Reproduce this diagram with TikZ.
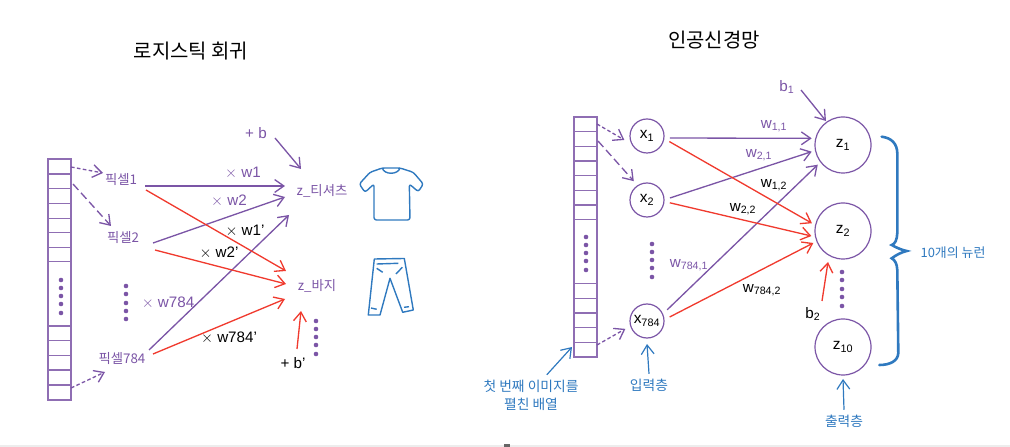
\documentclass[tikz,border=0pt]{standalone}
\usepackage{fontspec}
\setmainfont{Liberation Sans}
\newfontfamily\krfont{Noto Sans CJK KR}
\usetikzlibrary{arrows.meta}
\definecolor{netpurple}{HTML}{7B55A6}
\definecolor{netred}{HTML}{F03A2E}
\definecolor{netblue}{HTML}{2F79BF}
\tikzset{
	purpleArrow/.style={draw=netpurple, line width=0.33mm, -{Straight Barb[length=2.3mm,width=3.2mm]}},
	redArrow/.style={draw=netred, line width=0.33mm, -{Straight Barb[length=2.3mm,width=3.2mm]}},
	blueArrow/.style={draw=netblue, line width=0.3mm, -{Straight Barb[length=2.3mm,width=3.2mm]}},
	dotArrow/.style={purpleArrow, dash pattern=on 0.9mm off 0.6mm},
	dashArrow/.style={purpleArrow, dash pattern=on 2mm off 1mm},
	title/.style={font=\krfont\fontsize{14.2}{17}\selectfont},
	purpleKr/.style={text=netpurple, font=\krfont\fontsize{9.5}{11}\selectfont},
	blueKr/.style={text=netblue, align=center, font=\krfont\fontsize{9.8}{12.8}\selectfont},
	neuronKr/.style={text=netblue, font=\krfont\fontsize{9.2}{11}\selectfont},
	weight/.style={font=\fontsize{10.8}{13}\selectfont},
	inCircle/.style={circle, draw=netpurple, line width=0.3mm, minimum size=8.5mm, inner sep=0pt, outer sep=1.5mm, font=\fontsize{11}{13}\selectfont},
	outCircle/.style={circle, draw=netpurple, line width=0.3mm, minimum size=14mm, inner sep=0pt, outer sep=1mm, font=\fontsize{11}{13}\selectfont},
	dotty/.style={circle, fill=netpurple, inner sep=0pt, minimum size=1.15mm},
	cell/.style={rectangle, draw=netpurple!85, line width=0.28mm, minimum width=5.75mm, inner sep=0pt},
	iconLine/.style={draw=netblue, line width=0.35mm, line join=round}
}
\begin{document}
\begin{tikzpicture}[x=0.25mm, y=-0.25mm]
	\useasboundingbox (0,0) rectangle (1010,447);

	%Page edge
	\fill[black!7] (0,445) rectangle (1010,447);
	\fill[black!60] (504,444) rectangle (510,447);

	%Titles
	\node (leftTitle) at (191,51) [title]{로지스틱 회귀};
	\node (rightTitle) at (714,40) [title]{인공신경망};

	%Left array
	\node (leftArray) at (59.5,279.5) [cell, minimum height=60.25mm]{};
	\foreach \y in {174,188.7,203.7,218.3,232.7,247.3,261.7,326,340.7,355.3,370,385}
		\draw[netpurple!85, line width=0.28mm] (48,\y) -- (71,\y);
	\foreach \y in {280,288,296,304,313}
		\node at (61,\y) [dotty]{};

	%Left labels
	\node (pixelOne) at (121,180) [purpleKr]{픽셀1};
	\node (pixelTwo) at (123,238) [purpleKr]{픽셀2};
	\node (pixelLast) at (122,358) [purpleKr]{픽셀784};
	\foreach \y in {286,294,303,311,319}
		\node at (126,\y) [dotty]{};
	\node (teeOut) at (322,191) [purpleKr]{z\_티셔츠};
	\node (pantsOut) at (317,286) [purpleKr]{z\_바지};

	%Left free ends
	\coordinate (leftCellOne) at (71,167);
	\coordinate (leftCellTwo) at (73,184);
	\coordinate (leftCellLast) at (71,388);
	\coordinate (pixelOneIn) at (103,173);
	\coordinate (pixelTwoIn) at (111,226);
	\coordinate (pixelLastIn) at (105,372);
	\coordinate (pixelOneUp) at (145,186);
	\coordinate (pixelOneDown) at (146,190);
	\coordinate (pixelTwoUp) at (153,243);
	\coordinate (pixelTwoDown) at (155,250);
	\coordinate (pixelLastUp) at (149,350);
	\coordinate (pixelLastDown) at (153,354);
	\coordinate (teeInOne) at (285,186);
	\coordinate (teeInTwo) at (285,197);
	\coordinate (teeInLast) at (289,215);
	\coordinate (pantsInOne) at (286,271);
	\coordinate (pantsInTwo) at (286,284);
	\coordinate (pantsInLast) at (285,299);

	%Left arrows
	\draw[dotArrow] (leftCellOne) -- (pixelOneIn);
	\draw[dashArrow] (leftCellTwo) -- (pixelTwoIn);
	\draw[dotArrow] (leftCellLast) -- (pixelLastIn);
	\draw[purpleArrow] (pixelOneUp) -- (teeInOne);
	\draw[purpleArrow] (pixelTwoUp) -- (teeInTwo);
	\draw[purpleArrow] (pixelLastUp) -- (teeInLast);
	\draw[redArrow] (pixelOneDown) -- (pantsInOne);
	\draw[redArrow] (pixelTwoDown) -- (pantsInTwo);
	\draw[redArrow] (pixelLastDown) -- (pantsInLast);

	%Left weights
	\node (leftWOne) at (243,173) [weight, text=netpurple]{$\times$ w1};
	\node (leftWTwo) at (229,201) [weight, text=netpurple]{$\times$ w2};
	\node (leftWLast) at (168,303) [weight, text=netpurple]{$\times$ w784};
	\node (leftWOneB) at (245,231) [weight]{$\times$ w1'};
	\node (leftWTwoB) at (219,253) [weight]{$\times$ w2'};
	\node (leftWLastB) at (229,338) [weight]{$\times$ w784'};

	%Left bias
	\node (biasTee) at (256,133) [weight, text=netpurple]{+ b};
	\node (biasPants) at (293,363) [weight]{+ b'};
	\coordinate (biasTeeFrom) at (275,138);
	\coordinate (biasTeeTo) at (301,169);
	\coordinate (biasPantsFrom) at (297,349);
	\coordinate (biasPantsTo) at (301,311);
	\draw[purpleArrow] (biasTeeFrom) -- (biasTeeTo);
	\draw[redArrow] (biasPantsFrom) -- (biasPantsTo);
	\foreach \y in {321,329,337,345,354}
		\node at (316,\y) [dotty]{};

	%Shirt
	\draw[iconLine, rounded corners=0.6mm] (382.3,168) -- (400,168)
		-- (413.3,172.3) -- (423.3,184) -- (418.3,191.7) -- (409.3,184) -- (410,220)
		-- (374,220) -- (374,184) -- (365,192.3) -- (359.3,184) -- (370,172.3) -- cycle;
	\draw[iconLine] (382.3,168) .. controls (384,175) and (398,175) .. (400,168);

	%Pants
	\draw[iconLine] (374.3,259) -- (404.3,258.5) -- (413.3,310) -- (402.7,312.3) -- (390,278.3)
		-- (380,315) -- (368.3,315) -- cycle;
	\draw[iconLine] (376.7,264) -- (398.3,263.3);
	\draw[iconLine] (376.7,268.3) -- (382.7,272.3);
	\draw[iconLine] (402.3,267.3) -- (396,274);
	\draw[iconLine] (371,308) -- (376.7,309.3);
	\draw[iconLine] (404,307.3) -- (409,306.7);

	%Right array
	\node (rightArray) at (585.5,237) [cell, minimum height=60mm]{};
	\foreach \y in {131.7,146.3,161,175.7,190.3,205,219.3,283.7,298.3,313,327.7,342.3}
		\draw[netpurple!85, line width=0.28mm] (574,\y) -- (597,\y);
	\foreach \y in {237,245,253,261,270}
		\node at (586,\y) [dotty]{};

	%Input circles
	\node (xOne) at (647,136) [inCircle]{x\textsubscript{1}};
	\node (xTwo) at (647,200) [inCircle]{x\textsubscript{2}};
	\node (xLast) at (647,321) [inCircle]{x\textsubscript{784}};
	\foreach \y in {244,252,260,268,277}
		\node at (652,\y) [dotty]{};

	%Output circles
	\node (zOne) at (843,145) [outCircle]{z\textsubscript{1}};
	\node (zTwo) at (843,231) [outCircle]{z\textsubscript{2}};
	\node (zLast) at (843,347) [outCircle]{z\textsubscript{10}};
	\foreach \y in {272,280,289,297,306}
		\node at (842,\y) [dotty]{};

	%Right free ends
	\coordinate (rightCellOne) at (597,124);
	\coordinate (rightCellTwo) at (598,141);
	\coordinate (rightCellLast) at (597,345);

	%Right arrows
	\draw[dotArrow] (rightCellOne) -- (xOne.190);
	\draw[dashArrow] (rightCellTwo) -- (xTwo.125);
	\draw[dotArrow] (rightCellLast) -- (xLast.200);
	\draw[purpleArrow] (xOne.-5) -- (zOne.168);
	\draw[purpleArrow] (xTwo.5) -- (zOne.192);
	\draw[purpleArrow] (xLast.29) -- (zOne.218);
	\draw[redArrow] (xOne.-14) -- (zTwo.166);
	\draw[redArrow] (xTwo.-7) -- (zTwo.189);
	\draw[redArrow] (xLast.10) -- (zTwo.202);

	%Right weights
	\node (wOneOne) at (774,126) [weight, text=netpurple]{w\textsubscript{1,1}};
	\node (wTwoOne) at (759,155) [weight, text=netpurple]{w\textsubscript{2,1}};
	\node (wLastOne) at (689,265) [weight, text=netpurple]{w\textsubscript{784,1}};
	\node (wOneTwo) at (774,185) [weight]{w\textsubscript{1,2}};
	\node (wTwoTwo) at (743,209) [weight]{w\textsubscript{2,2}};
	\node (wLastTwo) at (762,290) [weight]{w\textsubscript{784,2}};

	%Right bias
	\node (biasOne) at (787,87) [weight, text=netpurple]{b\textsubscript{1}};
	\node (biasTwo) at (813,314) [weight]{b\textsubscript{2}};
	\coordinate (biasOneFrom) at (801,90);
	\coordinate (biasOneTo) at (826,121);
	\coordinate (biasTwoFrom) at (822,301);
	\coordinate (biasTwoTo) at (828,262);
	\draw[purpleArrow] (biasOneFrom) -- (biasOneTo);
	\draw[redArrow] (biasTwoFrom) -- (biasTwoTo);

	%Blue notes
	\node (arrayNote) at (531,395) [blueKr]{첫 번째 이미지를\\펼친 배열};
	\node (inputNote) at (649,385) [blueKr]{입력층};
	\node (outputNote) at (844,421) [blueKr]{출력층};
	\node (neuronNote) at (953,253) [neuronKr]{10개의 뉴런};
	\coordinate (arrayNoteTo) at (572,347);
	\draw[blueArrow] (arrayNote.52) -- (arrayNoteTo);
	\draw[blueArrow] (inputNote.north) -- (xLast.south);
	\draw[blueArrow] (outputNote.north) -- (zLast.south);

	%Brace
	\draw[netblue, line width=0.65mm, line cap=round] (881.7,136.7)
		.. controls (892,138) and (897,144) .. (897.3,153) -- (897.3,233)
		.. controls (897,240) and (895,244) .. (891.7,245) .. controls (897,248) and (902,250) .. (906.7,251)
		.. controls (902,252) and (896,255) .. (891.7,258.3)
		.. controls (895,260) and (897,264) .. (897.3,270) -- (898.3,353)
		.. controls (898,361) and (890,365) .. (879.3,365);
\end{tikzpicture}
\end{document}
